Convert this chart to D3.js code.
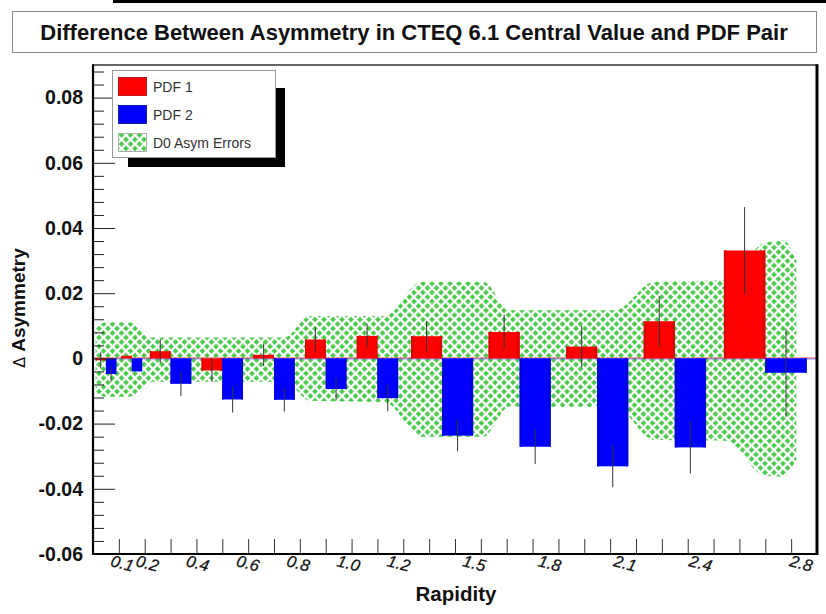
<!DOCTYPE html>
<html>
<head>
<meta charset="utf-8">
<script src="https://cdn.jsdelivr.net/npm/d3@7"></script>
<style>
  body { margin: 0; background: #fff; }
  text { font-family: "Liberation Sans", Arial, Helvetica, sans-serif; }
</style>
</head>
<body>
<svg id="chart" width="826" height="614"></svg>
<script>
// Rapidity bin edges (variable width bins)
const binEdges = [0, 0.1, 0.2, 0.4, 0.6, 0.8, 1.0, 1.2, 1.5, 1.8, 2.1, 2.4, 2.8];
const xTickLabels = ["0.1", "0.2", "0.4", "0.6", "0.8", "1.0", "1.2", "1.5", "1.8", "2.1", "2.4", "2.8"];

// Asymmetry difference for each PDF of the pair, per bin
const pdf1Values = [-0.0006, 0.0008, 0.0022, -0.0037, 0.0011, 0.0058, 0.0069, 0.0068, 0.0081, 0.0036, 0.0114, 0.0331];
const pdf1Errors = [0.0025, 0, 0.0037, 0.0035, 0.0035, 0.0038, 0.0037, 0.0047, 0.0053, 0.0064, 0.0077, 0.0133];
const pdf2Values = [-0.0048, -0.0040, -0.0078, -0.0126, -0.0127, -0.0094, -0.0122, -0.0237, -0.0271, -0.0331, -0.0273, -0.0044];
const pdf2Errors = [0.0024, 0, 0.0037, 0.0040, 0.0036, 0.0035, 0.0040, 0.0048, 0.0053, 0.0064, 0.0080, 0.0135];

// D0 asymmetry error envelope (rapidity, upper edge, lower edge)
const bandRapidity = [0.01, 0.05, 0.14, 0.23, 0.5, 0.74, 0.84, 1.13, 1.27, 1.51, 1.61, 2.02, 2.17, 2.44, 2.6, 2.67, 2.72];
const bandUpper = [0.0092, 0.0111, 0.0111, 0.0064, 0.0064, 0.0064, 0.0130, 0.0130, 0.0235, 0.0235, 0.0148, 0.0148, 0.0235, 0.0240, 0.0355, 0.0362, 0.0300];
const bandLower = [-0.0102, -0.0118, -0.0118, -0.0072, -0.0072, -0.0072, -0.0130, -0.0135, -0.0240, -0.0240, -0.0148, -0.0150, -0.0250, -0.0252, -0.0360, -0.0363, -0.0310];

// Y axis ticks
const yMajorTicks = [-0.06, -0.04, -0.02, 0, 0.02, 0.04, 0.06, 0.08];
const yTickLabels = ["-0.06", "-0.04", "-0.02", "0", "0.02", "0.04", "0.06", "0.08"];

const legendItems = ["PDF 1", "PDF 2", "D0 Asym Errors"];
const titleText = "Difference Between Asymmetry in CTEQ 6.1 Central Value and PDF Pair";

const W = 826, H = 614;
const frame = { left: 93, right: 817, top: 65, bottom: 554 };

const svg = d3.select("#chart");
svg.append("rect").attr("width", W).attr("height", H).attr("fill", "#fff");

// thin strip along the top of the canvas
svg.append("rect").attr("x", 113).attr("y", 0).attr("width", W - 113).attr("height", 3).attr("fill", "#000");

// title box
svg.append("rect").attr("x", 12.5).attr("y", 11.5).attr("width", 804).attr("height", 41)
  .attr("fill", "#fff").attr("stroke", "#888").attr("stroke-width", 1);
svg.append("text").attr("x", 414).attr("y", 40).attr("text-anchor", "middle")
  .attr("font-size", 22).attr("font-weight", "bold").attr("fill", "#111").text(titleText);

const x = d3.scaleLinear().domain([0, 2.8]).range([frame.left, frame.right]);
const y = d3.scaleLinear().domain([-0.06, 0.09]).range([frame.bottom, frame.top]);
const labelX = d3.scaleLinear().domain([0, 2.8]).range([97, 801]);

// hatch pattern for the error envelope: green diamonds separated by white diagonal lines
const defs = svg.append("defs");
const T = 9;
const pat = defs.append("pattern").attr("id", "hatch").attr("patternUnits", "userSpaceOnUse")
  .attr("width", T).attr("height", T);
pat.append("rect").attr("width", T).attr("height", T).attr("fill", "#6bd56b");
[[T / 2, 0], [0, T / 2], [T, T / 2], [T / 2, T]].forEach(([cx, cy]) => {
  const r = 2.0;
  pat.append("path").attr("d", `M${cx - r},${cy} L${cx},${cy - r} L${cx + r},${cy} L${cx},${cy + r} Z`)
    .attr("fill", "#49c949");
});
pat.append("path").attr("d", `M-1,-1 L${T + 1},${T + 1} M${T + 1},-1 L-1,${T + 1}`)
  .attr("stroke", "#fff").attr("stroke-width", 2.1).attr("fill", "none");
defs.append("clipPath").attr("id", "plotClip").append("rect")
  .attr("x", frame.left).attr("y", frame.top)
  .attr("width", frame.right - frame.left).attr("height", frame.bottom - frame.top);

const plot = svg.append("g").attr("clip-path", "url(#plotClip)");

// error envelope
const bandData = bandRapidity.map((r, i) => ({ r, hi: bandUpper[i], lo: bandLower[i] }));
const area = d3.area()
  .x(d => x(d.r)).y0(d => y(d.lo)).y1(d => y(d.hi))
  .curve(d3.curveMonotoneX);
plot.append("path").datum(bandData).attr("d", area).attr("fill", "url(#hatch)");

// zero level line
plot.append("line").attr("x1", frame.left).attr("x2", frame.right)
  .attr("y1", y(0) - 0.4).attr("y2", y(0) - 0.4).attr("stroke", "#ff3030").attr("stroke-width", 0.9);
plot.append("line").attr("x1", frame.left).attr("x2", frame.right)
  .attr("y1", y(0) + 0.5).attr("y2", y(0) + 0.5).attr("stroke", "#5050ff").attr("stroke-width", 0.7);

// bars
const bins = d3.range(binEdges.length - 1).map(i => ({
  x0: binEdges[i], x1: binEdges[i + 1],
  v1: pdf1Values[i], e1: pdf1Errors[i],
  v2: pdf2Values[i], e2: pdf2Errors[i]
}));

function drawBar(g, lo, hi, v, fill, edge) {
  const top = y(Math.max(v, 0)), bot = y(Math.min(v, 0));
  const px0 = x(lo), px1 = x(hi);
  const h = Math.max(bot - top, 0.8);
  g.append("rect").attr("x", px0).attr("y", top).attr("width", px1 - px0).attr("height", h).attr("fill", fill);
  const ew = Math.min(2.5, (px1 - px0) * 0.08);
  g.append("rect").attr("x", px0).attr("y", top).attr("width", ew).attr("height", h).attr("fill", edge);
  g.append("rect").attr("x", px1 - ew).attr("y", top).attr("width", ew).attr("height", h).attr("fill", edge);
}

const barG = plot.append("g");
bins.forEach(b => {
  const w = b.x1 - b.x0;
  drawBar(barG, b.x0 + 0.1 * w, b.x0 + 0.5 * w, b.v1, "#ff0000", "#e00000");
  drawBar(barG, b.x0 + 0.5 * w, b.x0 + 0.9 * w, b.v2, "#0000ff", "#0000dd");
});

// error bars
const errG = plot.append("g").attr("stroke", "#333").attr("stroke-width", 1);
bins.forEach(b => {
  const w = b.x1 - b.x0;
  const c1 = x(b.x0 + 0.3 * w), c2 = x(b.x0 + 0.7 * w);
  if (b.e1 > 0) errG.append("line").attr("x1", c1).attr("x2", c1).attr("y1", y(b.v1 + b.e1)).attr("y2", y(b.v1 - b.e1));
  if (b.e2 > 0) errG.append("line").attr("x1", c2).attr("x2", c2).attr("y1", y(b.v2 + b.e2)).attr("y2", y(b.v2 - b.e2));
});

// Y axis: major and minor ticks pointing into the frame
const yMinorTicks = d3.range(0, 38).map(i => +(-0.06 + i * 0.004).toFixed(4)).filter(v => !yMajorTicks.some(m => Math.abs(m - v) < 1e-6));
const yAxisMinor = svg.append("g").attr("transform", `translate(${frame.left},0)`)
  .call(d3.axisLeft(y).tickValues(yMinorTicks).tickSize(-11).tickFormat(""));
const yAxis = svg.append("g").attr("transform", `translate(${frame.left},0)`)
  .call(d3.axisLeft(y).tickValues(yMajorTicks).tickSize(-22).tickPadding(10)
    .tickFormat((d, i) => yTickLabels[i]));
[yAxisMinor, yAxis].forEach(g => {
  g.select(".domain").remove();
  g.selectAll(".tick line").attr("stroke", "#222").attr("stroke-width", 1);
});
yAxis.selectAll(".tick text").attr("font-size", 19.5).attr("font-weight", "bold").attr("fill", "#111")
  .attr("font-family", "Liberation Sans, Arial, sans-serif");

// X axis ticks (every 0.1) pointing up
const xTicks = d3.range(1, 28).map(i => i / 10);
const xAxis = svg.append("g").attr("transform", `translate(0,${frame.bottom})`)
  .call(d3.axisBottom(x).tickValues(xTicks).tickSize(-15).tickFormat(""));
xAxis.select(".domain").remove();
xAxis.selectAll(".tick line").attr("stroke", "#333").attr("stroke-width", 1);

// X tick labels at the bin edges, slanted
const xl = svg.append("g");
binEdges.slice(1).forEach((v, i) => {
  const lx = labelX(v), ly = 569;
  xl.append("text").attr("x", lx).attr("y", ly).attr("text-anchor", "middle")
    .attr("transform", `rotate(14,${lx},${ly - 5})`)
    .attr("font-size", 16.5).attr("font-style", "italic").attr("fill", "#111")
    .attr("stroke", "#111").attr("stroke-width", 0.25)
    .text(xTickLabels[i]);
});

// frame
const fr = svg.append("g").attr("fill", "none");
fr.append("line").attr("x1", frame.left).attr("x2", frame.right).attr("y1", frame.top).attr("y2", frame.top)
  .attr("stroke", "#333").attr("stroke-width", 1.5);
fr.append("line").attr("x1", frame.right).attr("x2", frame.right).attr("y1", frame.top - 0.7).attr("y2", frame.bottom + 1)
  .attr("stroke", "#000").attr("stroke-width", 3);
fr.append("line").attr("x1", frame.left).attr("x2", frame.left).attr("y1", frame.top - 0.7).attr("y2", frame.bottom + 1)
  .attr("stroke", "#000").attr("stroke-width", 2.2);
fr.append("line").attr("x1", frame.left - 1).attr("x2", frame.right + 1).attr("y1", frame.bottom).attr("y2", frame.bottom)
  .attr("stroke", "#000").attr("stroke-width", 2.2);

// axis titles
svg.append("text").attr("x", 456).attr("y", 601).attr("text-anchor", "middle")
  .attr("font-size", 20.5).attr("font-weight", "bold").attr("fill", "#111").text("Rapidity");
const yt = svg.append("text").attr("transform", "translate(25,308) rotate(-90)").attr("text-anchor", "middle")
  .attr("font-size", 19).attr("fill", "#111");
yt.append("tspan").attr("font-weight", "normal").attr("font-family", "DejaVu Sans, sans-serif").attr("font-size", 16).text("\u0394 ");
yt.append("tspan").attr("font-weight", "bold").text("Asymmetry");

// legend with drop shadow
const lg = { x: 112, y: 70, w: 163, h: 87 };
svg.append("rect").attr("x", lg.x + 16).attr("y", lg.y + 18).attr("width", lg.w - 6).attr("height", lg.h - 8).attr("fill", "#000");
svg.append("rect").attr("x", lg.x + 0.5).attr("y", lg.y + 0.5).attr("width", lg.w).attr("height", lg.h)
  .attr("fill", "#fff").attr("stroke", "#999").attr("stroke-width", 1);
const swatchFill = ["#ff0000", "#0000ff", "url(#hatch)"];
const swatchEdge = ["#b00000", "#0000a0", "#9a9a9a"];
legendItems.forEach((name, i) => {
  const sy = lg.y + 7 + i * 28;
  svg.append("rect").attr("x", 118.5).attr("y", sy + 0.5).attr("width", 28).attr("height", 18)
    .attr("fill", swatchFill[i]).attr("stroke", swatchEdge[i]).attr("stroke-width", 0.8);
  svg.append("text").attr("x", 153).attr("y", sy + 15).attr("font-size", 14).attr("fill", "#333").text(name);
});
</script>
</body>
</html>
